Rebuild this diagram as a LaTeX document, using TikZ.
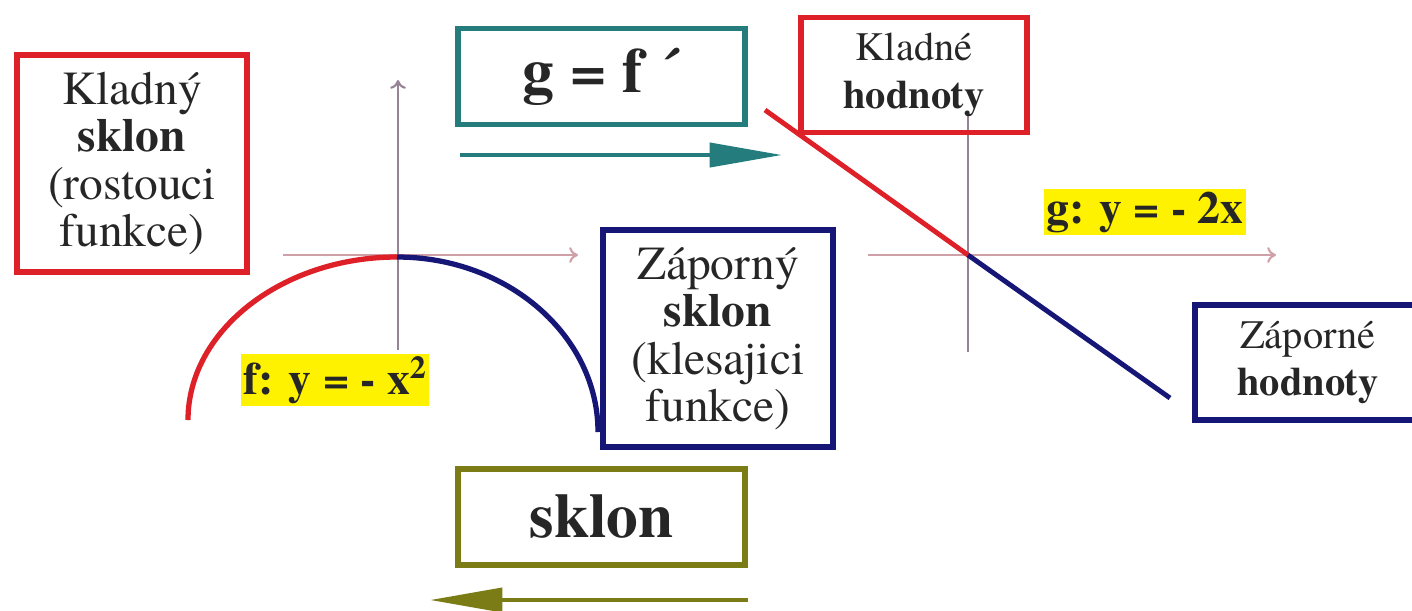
\documentclass[tikz,border=0pt]{standalone}
\usepackage{fontspec}
\setmainfont{texgyretermes-regular.otf}[BoldFont=texgyretermes-bold.otf]
\usepackage{xcolor}
\usetikzlibrary{arrows.meta, positioning}
\definecolor{Slope_Red}{RGB}{222,32,40}
\definecolor{Slope_Blue}{RGB}{22,22,118}
\definecolor{Slope_Teal}{RGB}{36,124,124}
\definecolor{Slope_Olive}{RGB}{124,124,22}
\definecolor{Axis_Gray}{RGB}{150,132,150}
\definecolor{Axis_Pink}{RGB}{208,160,168}

\begin{document}
\begin{tikzpicture}[
    x=0.02cm, y=-0.02cm,
    box/.style={rectangle, draw, line width=3pt, align=center, inner sep=0pt,
                text=black!85},
    tallbox/.style={box, minimum width=4.6cm, minimum height=4.34cm,
                    font=\fontsize{27}{27}\selectfont},
    valbox/.style={box, minimum width=4.52cm, minimum height=2.3cm,
                   font=\fontsize{23}{27}\selectfont},
    titlebox/.style={box, minimum width=5.74cm, minimum height=1.92cm,
                     font=\bfseries\fontsize{36}{36}\selectfont},
    eqlabel/.style={fill=yellow, inner sep=1.5pt, text=black!85,
                    font=\bfseries\fontsize{26}{26}\selectfont},
    axis/.style={line width=1.2pt, -{To[length=5pt, width=9pt]}},
    curve/.style={line width=3pt},
    wide arrow/.style={line width=2.4pt, -{Triangle[length=1.45cm, width=0.48cm]}}
]
\useasboundingbox (0,0) rectangle (1412,610);

% Axes of f
\coordinate (fyb) at (398,350);
\coordinate (fyt) at (398,80);
\coordinate (fxl) at (283,255);
\coordinate (fxr) at (578,255);
\draw[axis, Axis_Gray] (fyb) -- (fyt);
\draw[axis, Axis_Pink] (fxl) -- (fxr);

% Axes of g
\coordinate (gyb) at (968,352);
\coordinate (gyt) at (968,112);
\coordinate (gxl) at (868,255);
\coordinate (gxr) at (1276,255);
\draw[line width=1.2pt, Axis_Gray] (gyb) -- (gyt);
\draw[axis, Axis_Pink] (gxl) -- (gxr);

% f: y = -x^2
\coordinate (fstart) at (188,420);
\coordinate (ftop) at (397,257);
\coordinate (fend) at (598,432);
\draw[curve, Slope_Red] (fstart) .. controls (188,330) and (283,257) .. (ftop);
\draw[curve, Slope_Blue] (ftop) .. controls (508,257) and (598,336) .. (fend);

% g: y = -2x
\coordinate (gstart) at (765,110);
\coordinate (gzero) at (968,255);
\coordinate (gend) at (1170,398);
\draw[curve, line width=2.8pt, Slope_Red] (gstart) -- (gzero);
\draw[curve, line width=2.8pt, Slope_Blue] (gzero) -- (gend);

% Boxes
\node[tallbox, draw=Slope_Red] (rising) at (132,163.5)
    {Kladný\\\textbf{sklon}\\(rostouci\\funkce)};
\node[tallbox, draw=Slope_Blue] (falling) at (718,338.5)
    {Záporný\\\textbf{sklon}\\(klesajici\\funkce)};
\node[valbox, draw=Slope_Red] (positive) at (914,75) {Kladné\\\textbf{hodnoty}};
\node[valbox, draw=Slope_Blue] (negative) at (1308,362.5) {Záporné\\\textbf{hodnoty}};
\node[titlebox, draw=Slope_Teal] (deriv) at (601.5,76.5) {g = f ´};
\node[titlebox, draw=Slope_Olive] (slope) at (601.5,517) {sklon};

% Equation labels
\node[eqlabel] (feq) at (335,380) {f: y = - x\textsuperscript{2}};
\node[eqlabel] (geq) at (1145,212) {g: y = - 2x};

% Arrows
\coordinate (derivl) at (460,155);
\coordinate (derivr) at (782,155);
\coordinate (slopel) at (430,600);
\coordinate (sloper) at (748,600);
\draw[wide arrow, Slope_Teal] (derivl) -- (derivr);
\draw[wide arrow, Slope_Olive] (sloper) -- (slopel);

\end{tikzpicture}
\end{document}
